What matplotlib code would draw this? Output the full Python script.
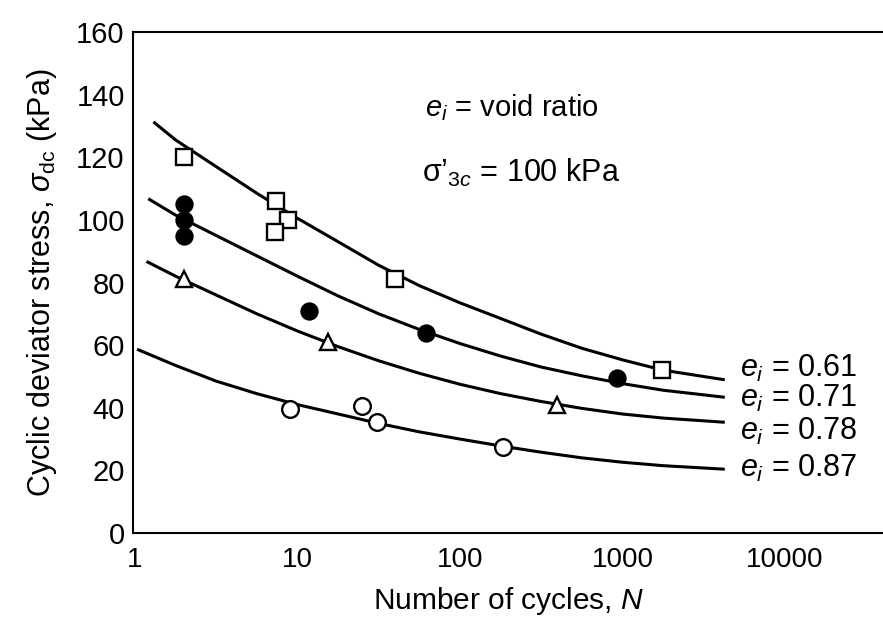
import matplotlib
matplotlib.use('Agg')
import matplotlib.pyplot as plt
import numpy as np

plt.rcParams['font.family'] = ['Liberation Sans', 'DejaVu Sans']
plt.rcParams['mathtext.fontset'] = 'custom'
plt.rcParams['mathtext.rm'] = 'Liberation Sans'
plt.rcParams['mathtext.it'] = 'Liberation Sans:italic'
plt.rcParams['mathtext.bf'] = 'Liberation Sans:bold'

# measured points (number of cycles N, cyclic deviator stress kPa)
sq_n = [2, 7.4, 8.8, 7.3, 40, 1740]
sq_s = [120, 106, 100, 96, 81, 52]

fc_n = [2, 2, 2, 11.7, 62, 920]
fc_s = [105, 100, 95, 71, 64, 49.5]

tri_n = [2, 15.5, 397]
tri_s = [81, 61, 41]

oc_n = [9, 24.8, 30.7, 185]
oc_s = [39.5, 40.5, 35.5, 27.5]

# fitted curves
curve_n = [1.78, 3.16, 5.62, 10, 17.8, 31.6, 56.2, 100, 178, 316, 562, 1000, 1778, 4170]
c61_n = [1.32] + curve_n
c61_s = [131, 125.5, 117, 108.5, 100.5, 93, 85.5, 79, 73.5, 68.5, 63.5, 59, 55.3, 52, 49]
c71_n = [1.23] + curve_n
c71_s = [106.5, 101.5, 95, 88.5, 82, 75.7, 70, 65, 60.5, 56.5, 53, 50.2, 47.7, 45.6, 43.4]
c78_n = [1.2] + curve_n
c78_s = [86.5, 82, 76, 70, 64.5, 59.5, 55, 51, 47.5, 44.5, 42, 39.8, 38, 36.7, 35.4]
c87_n = [1.05] + curve_n
c87_s = [58.5, 53.5, 48.5, 44.5, 41, 38, 35, 32.3, 30, 27.8, 25.8, 24, 22.6, 21.5, 20.4]

curve_labels = ['0.61', '0.71', '0.78', '0.87']
label_s = [52.5, 43, 32.5, 20.5]

fig = plt.figure(figsize=(8.83, 6.27), dpi=100)
ax = fig.add_axes([133 / 883, 94 / 627, 750 / 883, 501 / 627])
ax.set_xscale('log')
ax.set_xlim(10 ** (-2 / 162.5), 10 ** (748 / 162.5))
ax.set_ylim(0, 160)

for n, s in [(c61_n, c61_s), (c71_n, c71_s), (c78_n, c78_s), (c87_n, c87_s)]:
    ax.plot(n, s, color='black', lw=2.2, zorder=2, solid_joinstyle='round')

mk = dict(linestyle='none', markeredgecolor='black', markeredgewidth=1.7, zorder=3)
ax.plot(sq_n, sq_s, marker='s', markersize=11, markerfacecolor='white', **mk)
ax.plot(fc_n, fc_s, marker='o', markersize=11.5, markerfacecolor='black', **mk)
ax.plot(tri_n, tri_s, marker='^', markersize=12, markerfacecolor='white', **mk)
ax.plot(oc_n, oc_s, marker='o', markersize=12, markerfacecolor='white', **mk)

for lab, s in zip(curve_labels, label_s):
    ax.text(5300, s, r'$e_i$ = ' + lab, fontsize=22, va='center', ha='left')

ax.text(208, 136, r'$e_i$ = void ratio', fontsize=21, ha='center', va='center')
ax.text(236, 115, r'σ’$_{\mathit{3c}}$ = 100 kPa', fontsize=22, ha='center', va='center')

ax.set_xticks([1, 10, 100, 1000, 10000])
ax.set_xticklabels(['1', '10', '100', '1000', '10000'])
ax.minorticks_off()
ax.set_yticks(np.arange(0, 161, 20))
ax.tick_params(length=0, labelsize=20)
ax.tick_params(axis='x', pad=10)
ax.tick_params(axis='y', pad=6, labelsize=21)

ax.spines['right'].set_visible(False)
for sp in ['left', 'top', 'bottom']:
    ax.spines[sp].set_linewidth(1.5)

ax.set_xlabel(r'Number of cycles, $N$', fontsize=21.5, labelpad=9)
ax.set_ylabel(r'Cyclic deviator stress, $\sigma_{\rm dc}$ (kPa)', fontsize=22, labelpad=12)

fig.savefig('out.png', dpi=100)
